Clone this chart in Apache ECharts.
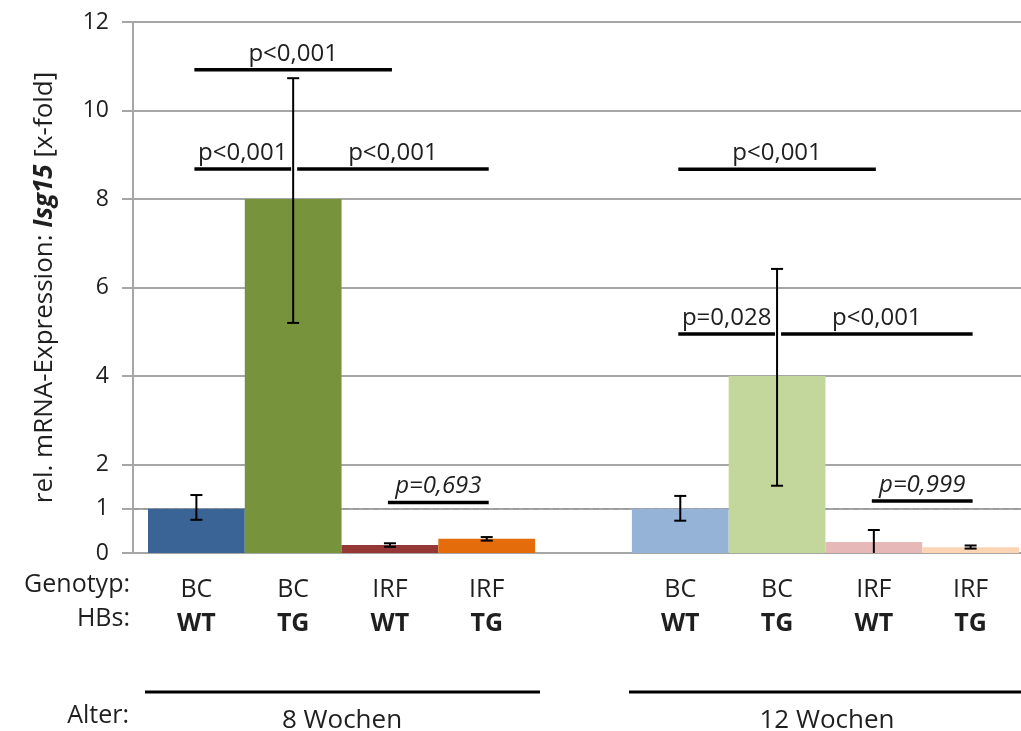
<!DOCTYPE html>
<html>
<head>
<meta charset="utf-8">
<script src="https://cdn.jsdelivr.net/npm/echarts@6/dist/echarts.min.js"></script>
<style>
html,body{margin:0;padding:0;background:#fff;}
#chart{width:1021px;height:731px;}
</style>
</head>
<body>
<div id="chart"></div>
<script>
// ---------- data ----------
const GENOTYP = ['BC', 'BC', 'IRF', 'IRF', '', 'BC', 'BC', 'IRF', 'IRF'];
const HBS     = ['WT', 'TG', 'WT', 'TG', '', 'WT', 'TG', 'WT', 'TG'];
const VALUES   = [1.0, 8.0, 0.18, 0.32, null, 1.0, 4.0, 0.25, 0.13];
const ERR_LOW  = [0.75, 5.2, 0.14, 0.28, null, 0.73, 1.52, 0, 0.10];
const ERR_HIGH = [1.31, 10.73, 0.22, 0.36, null, 1.29, 6.42, 0.52, 0.17];
const Y_TICKS = [0, 1, 2, 4, 6, 8, 10, 12];
const REF_LINE = 1;
const AGE_GROUPS = ['8 Wochen', '12 Wochen'];
const BRACKET_FROM   = [0, 0, 1, 2, 5, 5, 6, 7];
const BRACKET_TO     = [2, 1, 3, 3, 7, 6, 8, 8];
const BRACKET_Y      = [10.92, 8.68, 8.68, 1.14, 8.67, 4.95, 4.95, 1.175];
const BRACKET_LABEL  = ['p<0,001', 'p<0,001', 'p<0,001', 'p=0,693', 'p<0,001', 'p=0,028', 'p<0,001', 'p=0,999'];
const BRACKET_ITALIC = [false, false, false, true, false, false, false, true];

// ---------- styles ----------
const BAR_COLORS = ['#3A6396', '#77933C', '#953735', '#E46C0A', '#ffffff', '#95B3D7', '#C3D69B', '#E6B9B8', '#FCD5B5'];
const FONT = '"Open Sans", "Liberation Sans", sans-serif';
const TXT = '#1f1f1f';
const GRID_GREY = '#A6A6A6';

const chart = echarts.init(document.getElementById('chart'));

const errData = [];
VALUES.forEach((v, i) => { if (v != null) errData.push([i, ERR_LOW[i], ERR_HIGH[i]]); });

const bracketData = BRACKET_FROM.map((f, i) => [f, BRACKET_TO[i], BRACKET_Y[i]]);

const option = {
  animation: false,
  backgroundColor: '#fff',
  textStyle: { fontFamily: FONT, color: TXT },
  grid: [
    { left: 133, right: 0, top: 22, bottom: 178, containLabel: false },
    { left: 148, right: 2, top: 22, bottom: 178, containLabel: false }
  ],
  xAxis: [
    { gridIndex: 0, type: 'value', min: 0, max: 1, show: true,
      axisLine: { show: true, onZero: false, lineStyle: { color: GRID_GREY, width: 2 } },
      axisTick: { show: false }, axisLabel: { show: false }, splitLine: { show: false } },
    { gridIndex: 1, type: 'category', data: GENOTYP.map((g, i) => g ? g + '\n' + HBS[i] : ''),
      axisLine: { show: false }, axisTick: { show: false },
      axisLabel: {
        interval: 0, margin: 20,
        formatter: (val, idx) => GENOTYP[idx] ? '{g|' + GENOTYP[idx] + '}\n{h|' + HBS[idx] + '}' : '',
        rich: {
          g: { fontFamily: FONT, fontSize: 25, color: TXT, lineHeight: 34 },
          h: { fontFamily: FONT, fontSize: 25, fontWeight: 'bold', color: TXT, lineHeight: 34 }
        }
      } }
  ],
  yAxis: [
    { gridIndex: 0, type: 'value', min: 0, max: 12, interval: 2,
      axisLine: { show: true, lineStyle: { color: GRID_GREY, width: 2 } },
      axisTick: { show: true, inside: false, length: 11, customValues: Y_TICKS, lineStyle: { color: GRID_GREY, width: 2 } },
      axisLabel: { customValues: Y_TICKS, margin: 24, fontFamily: FONT, fontSize: 23, color: TXT },
      splitLine: { show: true, lineStyle: { color: GRID_GREY, width: 2 } },
      name: '{n|rel. mRNA-Expression: }{b|Isg15}{n| [x-fold]}',
      nameLocation: 'middle', nameRotate: 90, nameGap: 75,
      nameTextStyle: {
        rich: {
          n: { fontFamily: FONT, fontSize: 26, color: TXT },
          b: { fontFamily: FONT, fontSize: 26, color: TXT, fontWeight: 'bold', fontStyle: 'italic' }
        }
      } },
    { gridIndex: 1, type: 'value', min: 0, max: 12, interval: 2, show: false, splitLine: { show: false } }
  ],
  series: [
    { // reference line at 1
      type: 'line', xAxisIndex: 0, yAxisIndex: 0, z: 1,
      data: [[0, REF_LINE], [1, REF_LINE]], symbol: 'none', silent: true,
      lineStyle: { color: '#9A9A9A', width: 1.5, type: [6, 4] }
    },
    {
      type: 'bar', xAxisIndex: 1, yAxisIndex: 1, z: 2,
      barWidth: '100%', barGap: '0%',
      data: VALUES.map((v, i) => ({ value: v == null ? '-' : v, itemStyle: { color: BAR_COLORS[i] } }))
    },
    { // error bars
      type: 'custom', xAxisIndex: 1, yAxisIndex: 1, z: 5,
      data: errData,
      renderItem: (params, api) => {
        const x = api.value(0);
        const lo = api.value(1), hi = api.value(2);
        const pHi = api.coord([x, hi]);
        const pLo = api.coord([x, lo]);
        const w = 6;
        const children = [
          { type: 'line', shape: { x1: pHi[0], y1: pHi[1], x2: pLo[0], y2: pLo[1] }, style: { stroke: '#000', lineWidth: 2 } },
          { type: 'line', shape: { x1: pHi[0] - w, y1: pHi[1], x2: pHi[0] + w, y2: pHi[1] }, style: { stroke: '#000', lineWidth: 2 } }
        ];
        if (lo > 0) children.push({ type: 'line', shape: { x1: pLo[0] - w, y1: pLo[1], x2: pLo[0] + w, y2: pLo[1] }, style: { stroke: '#000', lineWidth: 2 } });
        return { type: 'group', children };
      }
    },
    { // significance brackets
      type: 'custom', xAxisIndex: 1, yAxisIndex: 1, z: 6,
      data: bracketData,
      renderItem: (params, api) => {
        const i = params.dataIndex;
        const f = BRACKET_FROM[i], t = BRACKET_TO[i], yv = BRACKET_Y[i];
        const p1 = api.coord([f, yv]);
        const p2 = api.coord([t, yv]);
        let x1 = p1[0] - 2, x2 = p2[0] + 2;
        for (let j = 0; j < BRACKET_FROM.length; j++) {
          if (j === i || BRACKET_Y[j] !== yv) continue;
          if (BRACKET_TO[j] === f) x1 += 6;
          if (BRACKET_FROM[j] === t) x2 -= 4;
        }
        return { type: 'group', children: [
          { type: 'line', shape: { x1: x1, y1: p1[1], x2: x2, y2: p1[1] }, style: { stroke: '#000', lineWidth: 3.5 } },
          { type: 'text', style: {
              text: BRACKET_LABEL[i], x: (x1 + x2) / 2, y: p1[1] - 4,
              align: 'center', verticalAlign: 'bottom',
              fontFamily: FONT, fontSize: 24, fontStyle: BRACKET_ITALIC[i] ? 'italic' : 'normal', fill: TXT } }
        ] };
      }
    }
  ],
  graphic: [
    { type: 'text', right: 1021 - 130, top: 572, style: { text: 'Genotyp:', fontFamily: FONT, fontSize: 25, fill: TXT } },
    { type: 'text', right: 1021 - 130, top: 606, style: { text: 'HBs:', fontFamily: FONT, fontSize: 25, fill: TXT } },
    { type: 'line', shape: { x1: 145, y1: 692, x2: 540, y2: 692 }, style: { stroke: '#000', lineWidth: 3 } },
    { type: 'line', shape: { x1: 629, y1: 692, x2: 1021, y2: 692 }, style: { stroke: '#000', lineWidth: 3 } },
    { type: 'text', right: 1021 - 129, top: 703, style: { text: 'Alter:', fontFamily: FONT, fontSize: 25, fill: TXT } },
    { type: 'text', x: 342, y: 721, style: { text: AGE_GROUPS[0], align: 'center', verticalAlign: 'middle', fontFamily: FONT, fontSize: 26, fill: TXT } },
    { type: 'text', x: 827, y: 721, style: { text: AGE_GROUPS[1], align: 'center', verticalAlign: 'middle', fontFamily: FONT, fontSize: 26, fill: TXT } }
  ]
};

chart.setOption(option);
</script>
</body>
</html>
